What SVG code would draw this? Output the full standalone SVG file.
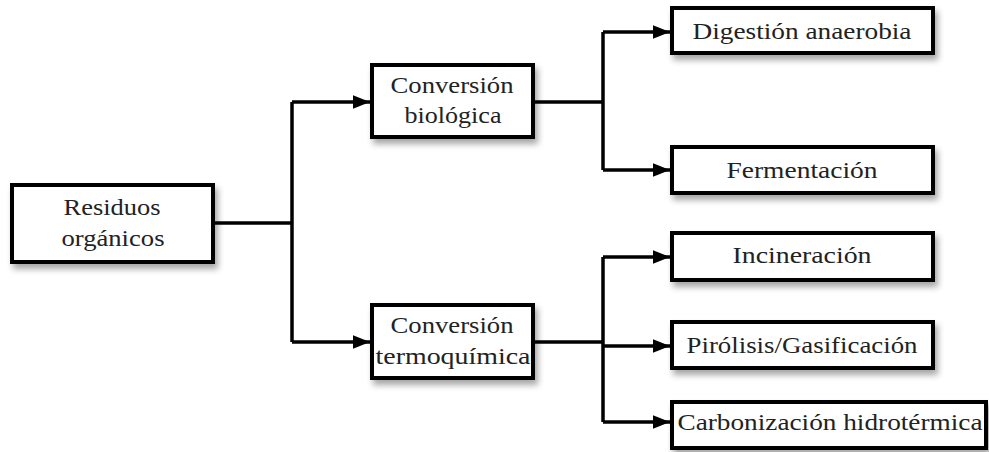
<svg xmlns="http://www.w3.org/2000/svg" width="989" height="452" viewBox="0 0 989 452">
<defs>
<filter id="sh" x="-10%" y="-20%" width="130%" height="160%">
<feDropShadow dx="3" dy="5" stdDeviation="3" flood-color="#000" flood-opacity="0.35"/>
</filter>
<marker id="ar" viewBox="0 0 10 10" refX="10" refY="5" markerWidth="5" markerHeight="5" orient="auto" markerUnits="strokeWidth">
<path d="M0,1 L10,5 L0,9 z" fill="#000"/>
</marker>
<style>
.box{fill:#fff;stroke:#000;stroke-width:4;filter:url(#sh)}
.t{font-family:"Liberation Serif","DejaVu Serif",serif;font-size:24px;fill:#222;text-anchor:middle}
.c{fill:none;stroke:#000;stroke-width:3.5}
</style>
</defs>
<rect width="989" height="452" fill="#fff"/>
<g id="connectors">
<path class="c" d="M213,223 H292"/>
<path class="c" d="M292,102 V342"/>
<path class="c" d="M292,102 H370" marker-end="url(#ar)"/>
<path class="c" d="M292,342 H370" marker-end="url(#ar)"/>
<path class="c" d="M533,102 H603"/>
<path class="c" d="M603,32 V170"/>
<path class="c" d="M603,32 H670" marker-end="url(#ar)"/>
<path class="c" d="M603,170 H670" marker-end="url(#ar)"/>
<path class="c" d="M533,342 H603"/>
<path class="c" d="M603,257 V422"/>
<path class="c" d="M603,257 H670" marker-end="url(#ar)"/>
<path class="c" d="M603,346 H670" marker-end="url(#ar)"/>
<path class="c" d="M603,422 H670" marker-end="url(#ar)"/>
</g>
<g id="residuos">
<rect class="box" x="12" y="185" width="201" height="77"/>
<text class="t" x="112" y="215" textLength="97" lengthAdjust="spacingAndGlyphs">Residuos</text>
<text class="t" x="113" y="246" textLength="103" lengthAdjust="spacingAndGlyphs">orgánicos</text>
</g>
<g id="biologica">
<rect class="box" x="372" y="65" width="161" height="72"/>
<text class="t" x="452" y="93" textLength="123" lengthAdjust="spacingAndGlyphs">Conversión</text>
<text class="t" x="453" y="123" textLength="97" lengthAdjust="spacingAndGlyphs">biológica</text>
</g>
<g id="termoquimica">
<rect class="box" x="372" y="305" width="161" height="73"/>
<text class="t" x="452" y="333" textLength="123" lengthAdjust="spacingAndGlyphs">Conversión</text>
<text class="t" x="453" y="364" textLength="155" lengthAdjust="spacingAndGlyphs">termoquímica</text>
</g>
<g id="digestion">
<rect class="box" x="672" y="8" width="261" height="45"/>
<text class="t" x="802" y="39" textLength="219" lengthAdjust="spacingAndGlyphs">Digestión anaerobia</text>
</g>
<g id="fermentacion">
<rect class="box" x="672" y="147" width="261" height="46"/>
<text class="t" x="802" y="178" textLength="151" lengthAdjust="spacingAndGlyphs">Fermentación</text>
</g>
<g id="incineracion">
<rect class="box" x="672" y="233" width="261" height="47"/>
<text class="t" x="802" y="263" textLength="139" lengthAdjust="spacingAndGlyphs">Incineración</text>
</g>
<g id="pirolisis">
<rect class="box" x="672" y="322" width="261" height="46"/>
<text class="t" x="802" y="353" textLength="231" lengthAdjust="spacingAndGlyphs">Pirólisis/Gasificación</text>
</g>
<g id="carbonizacion">
<rect class="box" x="672" y="402" width="314" height="46"/>
<text class="t" x="830" y="430" textLength="305" lengthAdjust="spacingAndGlyphs">Carbonización hidrotérmica</text>
</g>
</svg>
